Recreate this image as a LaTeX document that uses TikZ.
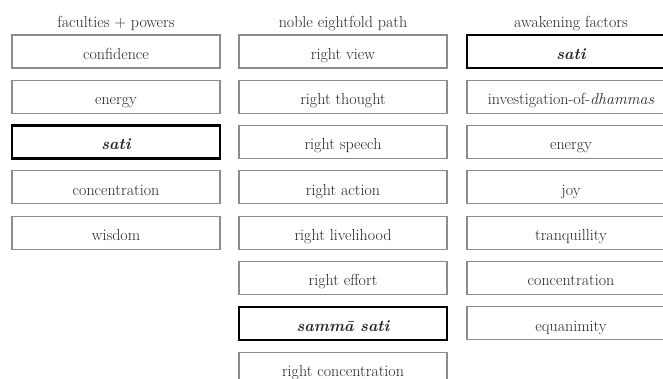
\documentclass[tikz,border=0pt]{standalone}
\usepackage{tikz}

\begin{document}
\begin{tikzpicture}[x=1pt, y=-1pt,
    factor/.style={draw=black!45, line width=1.1pt, minimum width=208pt, minimum height=33pt,
      inner sep=0pt, text height=15.5pt, text depth=0pt, text=black!85,
      font=\fontsize{16}{18}\selectfont},
    mindful/.style={factor, draw=black, line width=2.6pt, font=\fontsize{16}{18}\selectfont\bfseries\itshape},
    heading/.style={anchor=base, text=black!85, font=\fontsize{16}{18}\selectfont}]
    \useasboundingbox (0,0) rectangle (663,379);
    \clip (0,0) rectangle (663,379);
    \node[heading] (hf) at (116,28) {faculties + powers};
    \node[heading] (hp) at (343,28) {noble eightfold path};
    \node[heading] (ha) at (571,28) {awakening factors};

    \node[factor]  (f1) at (116,51.5) {confidence};
    \node[factor]  (f2) at (116,96.8) {energy};
    \node[mindful] (f3) at (116,142.1) {sati};
    \node[factor]  (f4) at (116,187.4) {concentration};
    \node[factor]  (f5) at (116,232.7) {wisdom};

    \node[factor]  (p1) at (343,51.5) {right view};
    \node[factor]  (p2) at (343,96.8) {right thought};
    \node[factor]  (p3) at (343,142.1) {right speech};
    \node[factor]  (p4) at (343,187.4) {right action};
    \node[factor]  (p5) at (343,232.7) {right livelihood};
    \node[factor]  (p6) at (343,278.0) {right effort};
    \node[mindful] (p7) at (343,323.3) {samm\={a} sati};
    \node[factor]  (p8) at (343,368.6) {right concentration};

    \node[mindful] (a1) at (571,51.5) {sati};
    \node[factor]  (a2) at (571,96.8) {investigation-of-\textit{dhammas}};
    \node[factor]  (a3) at (571,142.1) {energy};
    \node[factor]  (a4) at (571,187.4) {joy};
    \node[factor]  (a5) at (571,232.7) {tranquillity};
    \node[factor]  (a6) at (571,278.0) {concentration};
    \node[factor]  (a7) at (571,323.3) {equanimity};
\end{tikzpicture}
\end{document}
